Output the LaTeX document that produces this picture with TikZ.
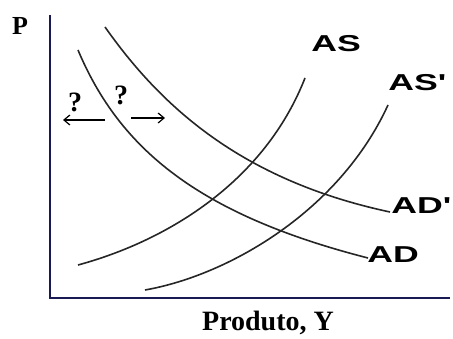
\documentclass[tikz,border=0pt]{standalone}
\usepackage{fontspec}
\setmainfont{Liberation Serif}
\newfontfamily\lblfont{Liberation Sans}
\usetikzlibrary{arrows.meta}
\begin{document}
\begin{tikzpicture}[x=1pt,y=-1pt,
  curve/.style={line width=1.6pt,black!85},
  axis/.style={line width=2.6pt,black!75!blue!90},
  lbl/.style={font=\lblfont\bfseries\fontsize{23}{23}\selectfont,xscale=1.55,inner sep=0pt},
  serif/.style={font=\bfseries\fontsize{28}{28}\selectfont,inner sep=0pt},
  smallserif/.style={font=\bfseries\fontsize{26}{26}\selectfont,inner sep=0pt},
  q/.style={font=\bfseries\fontsize{28}{28}\selectfont,inner sep=0pt},
  arr/.style={line width=1.2pt,-{Straight Barb[length=6pt,width=10pt]}}]
\useasboundingbox (0,0) rectangle (453,339);
% axes
\coordinate (o) at (50,298);
\coordinate (ytop) at (50,15);
\coordinate (xend) at (450,298);
\draw[axis] (ytop) -- (o) -- (xend);
\node[smallserif] (P) at (20,26) {P};
\node[serif] (xl) at (268,323) {Produto, Y};
% curves
\coordinate (ad0) at (78,50);
\coordinate (ad1) at (368,258);
\draw[curve] (ad0) .. controls (120,150) and (200,215) .. (ad1);
\coordinate (adp0) at (105,27);
\coordinate (adp1) at (390,212);
\draw[curve] (adp0) .. controls (160,105) and (240,180) .. (adp1);
\coordinate (as0) at (78,265);
\coordinate (as1) at (305,78);
\draw[curve] (as0) .. controls (170,240) and (265,180) .. (as1);
\coordinate (asp0) at (145,290);
\coordinate (asp1) at (388,105);
\draw[curve] (asp0) .. controls (230,275) and (340,210) .. (asp1);
% labels
\node[lbl,anchor=west] (AS) at (311,44) {AS};
\node[lbl,anchor=west] (ASp) at (388,83) {AS'};
\node[lbl,anchor=west] (ADp) at (391,206) {AD'};
\node[lbl,anchor=west] (AD) at (367,255) {AD};
% question marks and arrows
\node[q] (q1) at (75,102) {?};
\node[q] (q2) at (121,95) {?};
\coordinate (l0) at (105,120);
\coordinate (l1) at (63,120);
\coordinate (r0) at (131,118);
\coordinate (r1) at (165,118);
\draw[arr] (l0) -- (l1);
\draw[arr] (r0) -- (r1);
\end{tikzpicture}
\end{document}
